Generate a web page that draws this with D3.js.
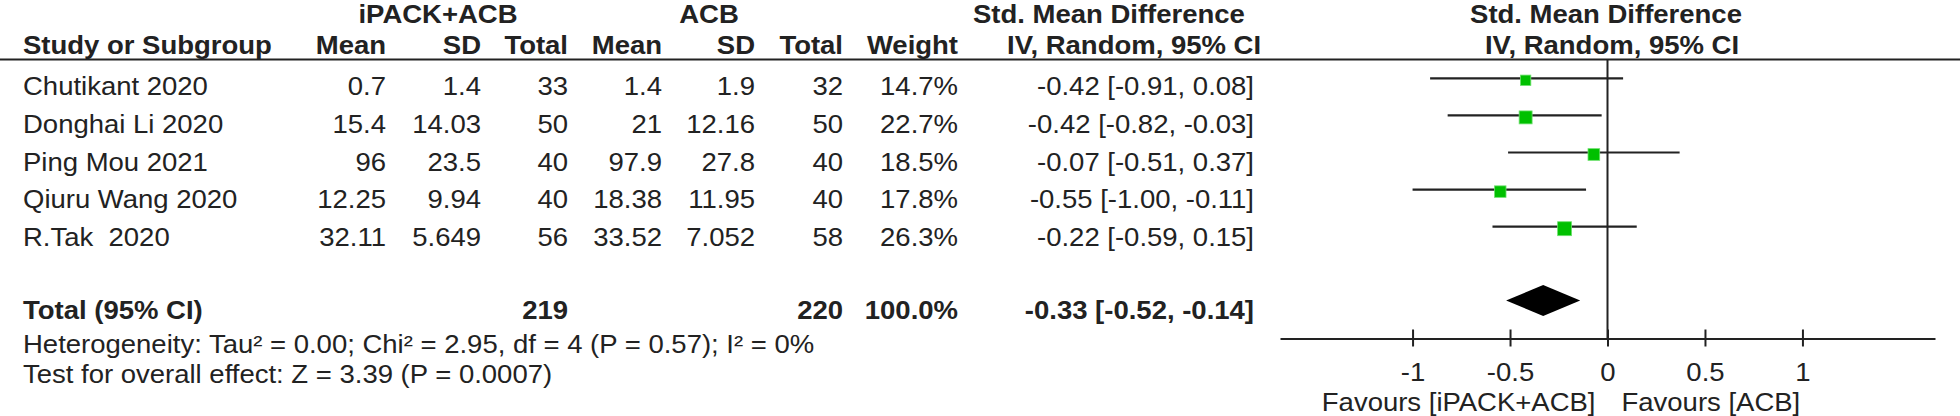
<!DOCTYPE html>
<html>
<head>
<meta charset="utf-8">
<title>Forest plot: iPACK+ACB vs ACB</title>
<style>
  body { margin: 0; background: #fff; }
  svg text { font-family: "Liberation Sans", Arial, sans-serif; font-size: 25px; fill: #222; white-space: pre; }
</style>
</head>
<body>
<div id="container"></div>
<script src="https://cdn.jsdelivr.net/npm/d3@7"></script>
<script>
// Study rows
const studies = ["Chutikant 2020", "Donghai Li 2020", "Ping Mou 2021", "Qiuru Wang 2020", "R.Tak  2020"];
const expMean = [0.7, 15.4, 96, 12.25, 32.11];
const expSD = [1.4, 14.03, 23.5, 9.94, 5.649];
const expTotal = [33, 50, 40, 40, 56];
const ctlMean = [1.4, 21, 97.9, 18.38, 33.52];
const ctlSD = [1.9, 12.16, 27.8, 11.95, 7.052];
const ctlTotal = [32, 50, 40, 40, 58];
const weights = [14.7, 22.7, 18.5, 17.8, 26.3];
const smd = [-0.42, -0.42, -0.07, -0.55, -0.22];
const ciLow = [-0.91, -0.82, -0.51, -1.00, -0.59];
const ciHigh = [0.08, -0.03, 0.37, -0.11, 0.15];

// Pooled result
const total = { exp: 219, ctl: 220, weight: 100.0, est: -0.33, lo: -0.52, hi: -0.14 };
const heterogeneity = "Heterogeneity: Tau² = 0.00; Chi² = 2.95, df = 4 (P = 0.57); I² = 0%";
const overall = "Test for overall effect: Z = 3.39 (P = 0.0007)";

// Axis
const tickValues = [-1, -0.5, 0, 0.5, 1];
const favoursLeft = "Favours [iPACK+ACB]";
const favoursRight = "Favours [ACB]";

const width = 1960;
const height = 416;
const sx = 1.1; // the source image is stretched sideways

const svg = d3.create("svg")
    .attr("width", width)
    .attr("height", height);

function txt(x, y, s, anchor = "start", bold = false) {
    return svg.append("text")
        .attr("transform", `translate(${x},${y}) scale(${sx},1)`)
        .attr("text-anchor", anchor)
        .attr("font-weight", bold ? "bold" : null)
        .text(s);
}

// column right edges
const col = { study: 23, eMean: 386, eSD: 481, eTot: 568, cMean: 662, cSD: 755, cTot: 843, weight: 958, ci: 1254 };

// scales
const x = d3.scaleLinear().domain([-1.68, 1.68]).range([1280, 1935]);
const rowText = d3.scaleLinear().domain([0, 4]).range([95, 246]);
const rowPlot = d3.scaleLinear().domain([0, 4]).range([78.3, 226.7]);
const boxSize = d3.scaleSqrt().domain([0, 100]).range([0, 27.2]);

const axisY = 338.5;
const lineY = 59.5;
const totalTextY = 319;
const totalPlotY = 300.5;

// numbers in the source use a plain hyphen for negatives
const f2 = v => v.toFixed(2);

// headers
txt(438, 23, "iPACK+ACB", "middle", true);
txt(709, 23, "ACB", "middle", true);
txt(973, 23, "Std. Mean Difference", "start", true);
txt(1606, 23, "Std. Mean Difference", "middle", true);

txt(col.study, 53.5, "Study or Subgroup", "start", true);
txt(col.eMean, 53.5, "Mean", "end", true);
txt(col.eSD, 53.5, "SD", "end", true);
txt(col.eTot, 53.5, "Total", "end", true);
txt(col.cMean, 53.5, "Mean", "end", true);
txt(col.cSD, 53.5, "SD", "end", true);
txt(col.cTot, 53.5, "Total", "end", true);
txt(col.weight, 53.5, "Weight", "end", true);
txt(1007, 53.5, "IV, Random, 95% CI", "start", true);
txt(1612, 53.5, "IV, Random, 95% CI", "middle", true);

svg.append("line")
    .attr("x1", 0).attr("x2", width)
    .attr("y1", lineY).attr("y2", lineY)
    .attr("stroke", "#222").attr("stroke-width", 2);

// study rows
studies.forEach((s, i) => {
    const y = rowText(i);
    txt(col.study, y, s);
    txt(col.eMean, y, String(expMean[i]), "end");
    txt(col.eSD, y, String(expSD[i]), "end");
    txt(col.eTot, y, String(expTotal[i]), "end");
    txt(col.cMean, y, String(ctlMean[i]), "end");
    txt(col.cSD, y, String(ctlSD[i]), "end");
    txt(col.cTot, y, String(ctlTotal[i]), "end");
    txt(col.weight, y, weights[i].toFixed(1) + "%", "end");
    txt(col.ci, y, `${f2(smd[i])} [${f2(ciLow[i])}, ${f2(ciHigh[i])}]`, "end");
});

// total row
txt(col.study, totalTextY, "Total (95% CI)", "start", true);
txt(col.eTot, totalTextY, String(total.exp), "end", true);
txt(col.cTot, totalTextY, String(total.ctl), "end", true);
txt(col.weight, totalTextY, total.weight.toFixed(1) + "%", "end", true);
txt(col.ci, totalTextY, `${f2(total.est)} [${f2(total.lo)}, ${f2(total.hi)}]`, "end", true);

txt(col.study, 353, heterogeneity);
txt(col.study, 383, overall);

// zero line
svg.append("line")
    .attr("x1", x(0)).attr("x2", x(0))
    .attr("y1", lineY).attr("y2", axisY)
    .attr("stroke", "#222").attr("stroke-width", 2);

// confidence intervals
svg.append("g")
    .selectAll("line")
    .data(studies.map((s, i) => i))
    .join("line")
    .attr("x1", i => x(ciLow[i]))
    .attr("x2", i => x(ciHigh[i]))
    .attr("y1", i => rowPlot(i))
    .attr("y2", i => rowPlot(i))
    .attr("stroke", "#222")
    .attr("stroke-width", 2.2);

// weight boxes
svg.append("g")
    .selectAll("rect")
    .data(studies.map((s, i) => i))
    .join("rect")
    .attr("x", i => x(smd[i]) - boxSize(weights[i]) / 2)
    .attr("y", i => rowPlot(i) + 2 - boxSize(weights[i]) / 2)
    .attr("width", i => boxSize(weights[i]))
    .attr("height", i => boxSize(weights[i]))
    .attr("fill", "#00c000")
    .attr("stroke", "#6ee06e")
    .attr("stroke-width", 0.8);

// pooled diamond
const dh = 15.5;
svg.append("path")
    .attr("d", `M${x(total.lo)},${totalPlotY}L${x(total.est)},${totalPlotY - dh}L${x(total.hi)},${totalPlotY}L${x(total.est)},${totalPlotY + dh}Z`)
    .attr("fill", "#000");

// axis
const ax = svg.append("g")
    .attr("transform", `translate(0,${axisY})`)
    .call(d3.axisBottom(x).tickValues(tickValues).tickSize(8).tickSizeOuter(0).tickPadding(16.5)
        .tickFormat(d => String(d)));
ax.select(".domain").attr("stroke", "#222").attr("stroke-width", 2);
ax.selectAll(".tick line").attr("y1", -9).attr("stroke", "#222").attr("stroke-width", 2);
ax.selectAll(".tick text")
    .attr("fill", null)
    .attr("transform", `scale(${sx},1)`);
ax.attr("font-size", null).attr("font-family", null);

txt(x(0) - 12, 410.5, favoursLeft, "end");
txt(x(0) + 14, 410.5, favoursRight, "start");

container.append(svg.node());
</script>
</body>
</html>
